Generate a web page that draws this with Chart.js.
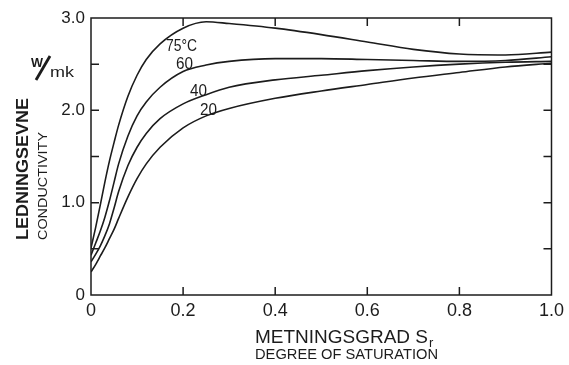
<!DOCTYPE html>
<html>
<head>
<meta charset="utf-8">
<script src="https://cdn.jsdelivr.net/npm/chart.js@4.4.1/dist/chart.umd.min.js"></script>
<style>
html,body{margin:0;padding:0;background:#ffffff;}
#wrap{width:569px;height:365px;position:relative;}
</style>
</head>
<body>
<div id="wrap"><canvas id="c" width="569" height="365"></canvas></div>
<script>
// Degree of saturation S_r (x values)
const saturation = [0, 0.01, 0.02, 0.03, 0.04, 0.05, 0.06, 0.08, 0.10, 0.12, 0.15, 0.20, 0.25, 0.30, 0.40, 0.50, 0.60, 0.70, 0.80, 0.90, 1.00];
// Thermal conductivity (W/mK) per temperature
const k75 = [0.51, 0.73, 0.97, 1.22, 1.45, 1.65, 1.84, 2.15, 2.38, 2.55, 2.72, 2.89, 2.96, 2.94, 2.89, 2.82, 2.74, 2.66, 2.61, 2.60, 2.63];
const k60 = [0.43, 0.56, 0.69, 0.84, 1.02, 1.22, 1.42, 1.72, 1.94, 2.09, 2.25, 2.42, 2.49, 2.53, 2.56, 2.56, 2.55, 2.54, 2.53, 2.54, 2.58];
const k40 = [0.36, 0.44, 0.53, 0.64, 0.77, 0.94, 1.12, 1.40, 1.60, 1.75, 1.91, 2.07, 2.17, 2.25, 2.33, 2.38, 2.43, 2.47, 2.50, 2.52, 2.53];
const k20 = [0.25, 0.33, 0.42, 0.51, 0.61, 0.71, 0.83, 1.06, 1.26, 1.42, 1.60, 1.81, 1.94, 2.02, 2.13, 2.21, 2.28, 2.35, 2.41, 2.47, 2.51];
const seriesLabels = ['75\u00B0C', '60', '40', '20'];
const xTickValues = [0, 0.2, 0.4, 0.6, 0.8, 1.0];
const yTickValues = [0, 0.5, 1.0, 1.5, 2.0, 2.5, 3.0];
const yLabeled = [0, 1.0, 2.0, 3.0];

const INK = '#1c1c1c';
const toPts = arr => saturation.map((x, i) => ({x: x, y: arr[i]}));
const mk = (label, arr) => ({
  label: label, data: toPts(arr), borderColor: INK, borderWidth: 1.6,
  pointRadius: 0, fill: false, cubicInterpolationMode: 'monotone'
});

function fitText(ctx, str, x, y, w, size, weight) {
  ctx.save();
  ctx.font = weight + ' ' + size + 'px "Liberation Sans", Arial, sans-serif';
  const m = ctx.measureText(str).width;
  ctx.translate(x, y);
  ctx.scale(w / m, 1);
  ctx.textAlign = 'left';
  ctx.textBaseline = 'alphabetic';
  ctx.fillText(str, 0, 0);
  ctx.restore();
}

const decor = {
  id: 'decor',
  afterDraw(chart) {
    const ctx = chart.ctx;
    const xs = chart.scales.x, ys = chart.scales.y;
    const L = xs.left, R = xs.right, T = ys.top, B = ys.bottom;
    ctx.save();
    ctx.strokeStyle = INK;
    ctx.fillStyle = INK;
    ctx.lineWidth = 1.5;
    ctx.strokeRect(L, T, R - L, B - T);
    const tl = 8;
    ctx.beginPath();
    xTickValues.forEach(v => {
      const px = xs.getPixelForValue(v);
      if (v > 0 && v < 1) {
        ctx.moveTo(px, B); ctx.lineTo(px, B - tl);
        ctx.moveTo(px, T); ctx.lineTo(px, T + tl);
      }
    });
    yTickValues.forEach(v => {
      const py = ys.getPixelForValue(v);
      if (v > 0 && v < 3) {
        ctx.moveTo(L, py); ctx.lineTo(L + tl, py);
        ctx.moveTo(R, py); ctx.lineTo(R - tl, py);
      }
    });
    ctx.stroke();

    // Y axis titles (rotated)
    ctx.save();
    ctx.translate(28, 240);
    ctx.rotate(-Math.PI / 2);
    fitText(ctx, 'LEDNINGSEVNE', 0, 0, 142, 16.5, 'bold');
    ctx.restore();
    ctx.save();
    ctx.translate(47, 240);
    ctx.rotate(-Math.PI / 2);
    fitText(ctx, 'CONDUCTIVITY', 0, 0, 108, 13.5, 'normal');
    ctx.restore();

    // Unit W/mk
    fitText(ctx, 'W', 31, 67, 12, 13, 'bold');
    ctx.beginPath();
    ctx.lineWidth = 2.8;
    ctx.moveTo(36, 80); ctx.lineTo(50, 56);
    ctx.stroke();
    fitText(ctx, 'mk', 50, 77, 24, 14, 'normal');

    // X axis titles
    fitText(ctx, 'METNINGSGRAD S', 255, 343, 173, 17.5, 'normal');
    ctx.font = 'normal 13px "Liberation Sans", Arial, sans-serif';
    ctx.fillText('r', 429, 347);
    fitText(ctx, 'DEGREE OF SATURATION', 255, 359, 183, 14, 'normal');

    // Curve labels
    fitText(ctx, seriesLabels[0], 166, 51, 31, 16, 'normal');
    fitText(ctx, seriesLabels[1], 176, 69, 17, 16, 'normal');
    fitText(ctx, seriesLabels[2], 190, 96, 17, 16, 'normal');
    fitText(ctx, seriesLabels[3], 200, 115, 17, 16, 'normal');
    ctx.restore();
  }
};

new Chart(document.getElementById('c'), {
  type: 'line',
  data: { datasets: [mk(seriesLabels[0], k75), mk(seriesLabels[1], k60), mk(seriesLabels[2], k40), mk(seriesLabels[3], k20)] },
  options: {
    responsive: false,
    animation: false,
    devicePixelRatio: 1,
    layout: { padding: { left: 0, top: 18, right: 11, bottom: 0 } },
    plugins: { legend: { display: false }, tooltip: { enabled: false }, title: { display: false } },
    scales: {
      x: {
        type: 'linear', min: 0, max: 1,
        afterFit: s => { s.height = 70; },
        afterBuildTicks: s => { s.ticks = xTickValues.map(v => ({value: v})); },
        grid: { display: false, drawTicks: false },
        border: { display: false },
        ticks: {
          color: INK, padding: 5, maxRotation: 0, autoSkip: false,
          font: { family: '"Liberation Sans", Arial, sans-serif', size: 18 },
          callback: v => v === 0 ? '0' : Number(v).toFixed(1)
        }
      },
      y: {
        type: 'linear', min: 0, max: 3,
        afterFit: s => { s.width = 91; },
        afterBuildTicks: s => { s.ticks = yLabeled.map(v => ({value: v})); },
        grid: { display: false, drawTicks: false },
        border: { display: false },
        ticks: {
          color: INK, padding: 6, autoSkip: false,
          font: { family: '"Liberation Sans", Arial, sans-serif', size: 17 },
          callback: v => v === 0 ? '0' : Number(v).toFixed(1)
        }
      }
    }
  },
  plugins: [decor]
});
</script>
</body>
</html>
